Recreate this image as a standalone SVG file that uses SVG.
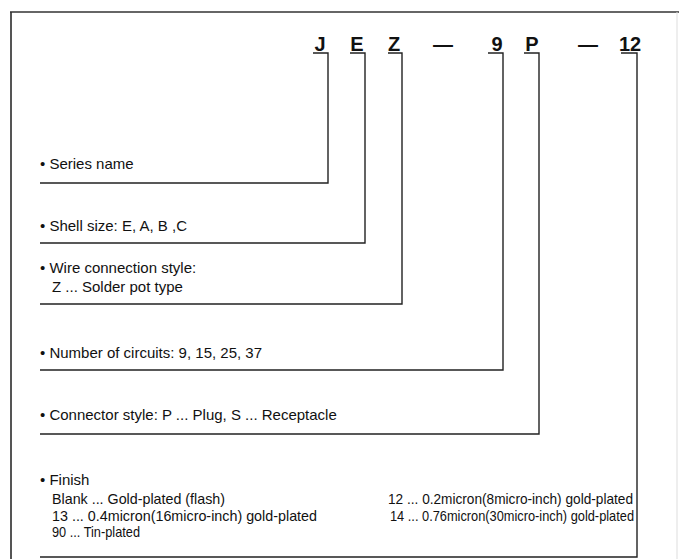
<svg xmlns="http://www.w3.org/2000/svg" width="679" height="559" viewBox="0 0 679 559">
<style>
.t{font-family:"Liberation Sans",Arial,sans-serif;font-size:15px;fill:#111}
.h{font-family:"Liberation Sans",Arial,sans-serif;font-size:20px;font-weight:bold;fill:#111;text-anchor:middle}
.br{fill:none;stroke:#222;stroke-width:1.4}
</style>
<rect width="679" height="559" fill="#fff"/>
<g id="frame">
<line x1="11" y1="12" x2="11" y2="559" stroke="#555" stroke-width="2"/>
<line x1="10" y1="12" x2="679" y2="12" stroke="#333" stroke-width="1.5"/>
<line x1="677" y1="12" x2="677" y2="559" stroke="#ddd" stroke-width="1"/>
</g>
<g id="code">
<text class="h" x="320" y="51">J</text>
<text class="h" x="357" y="51">E</text>
<text class="h" x="394" y="51">Z</text>
<text class="h" x="443" y="51">—</text>
<text class="h" x="497" y="51">9</text>
<text class="h" x="532" y="51">P</text>
<text class="h" x="588" y="51">—</text>
<text class="h" x="630" y="51">12</text>
</g>
<g id="connectors">
<polyline class="br" points="313,53 328,53 328,183 40,183"/>
<polyline class="br" points="350,53 365,53 365,243 40,243"/>
<polyline class="br" points="388,53 402,53 402,304 40,304"/>
<polyline class="br" points="488,53 503,53 503,370 40,370"/>
<polyline class="br" points="524,53 539,53 539,434 40,434"/>
<polyline class="br" points="621,53 637,53 637,557 40,557"/>
</g>
<g id="series"><text class="t" x="40" y="169">• Series name</text></g>
<g id="shell"><text class="t" x="40" y="231">• Shell size: E, A, B ,C</text></g>
<g id="wire"><text class="t" x="40" y="273">• Wire connection style:</text><text class="t" x="52" y="292">Z ... Solder pot type</text></g>
<g id="circuits"><text class="t" x="40" y="358">• Number of circuits: 9, 15, 25, 37</text></g>
<g id="style"><text class="t" x="40" y="420">• Connector style: P ... Plug, S ... Receptacle</text></g>
<g id="finish">
<text class="t" x="40" y="485">• Finish</text>
<text class="t" x="52" y="504" textLength="173" lengthAdjust="spacingAndGlyphs">Blank ... Gold-plated (flash)</text>
<text class="t" x="52" y="521" textLength="265" lengthAdjust="spacingAndGlyphs">13 ... 0.4micron(16micro-inch) gold-plated</text>
<text class="t" x="52" y="537" textLength="88" lengthAdjust="spacingAndGlyphs">90 ... Tin-plated</text>
<text class="t" x="388" y="504" textLength="245" lengthAdjust="spacingAndGlyphs">12 ... 0.2micron(8micro-inch) gold-plated</text>
<text class="t" x="390" y="521" textLength="244" lengthAdjust="spacingAndGlyphs">14 ... 0.76micron(30micro-inch) gold-plated</text>
</g>
</svg>
